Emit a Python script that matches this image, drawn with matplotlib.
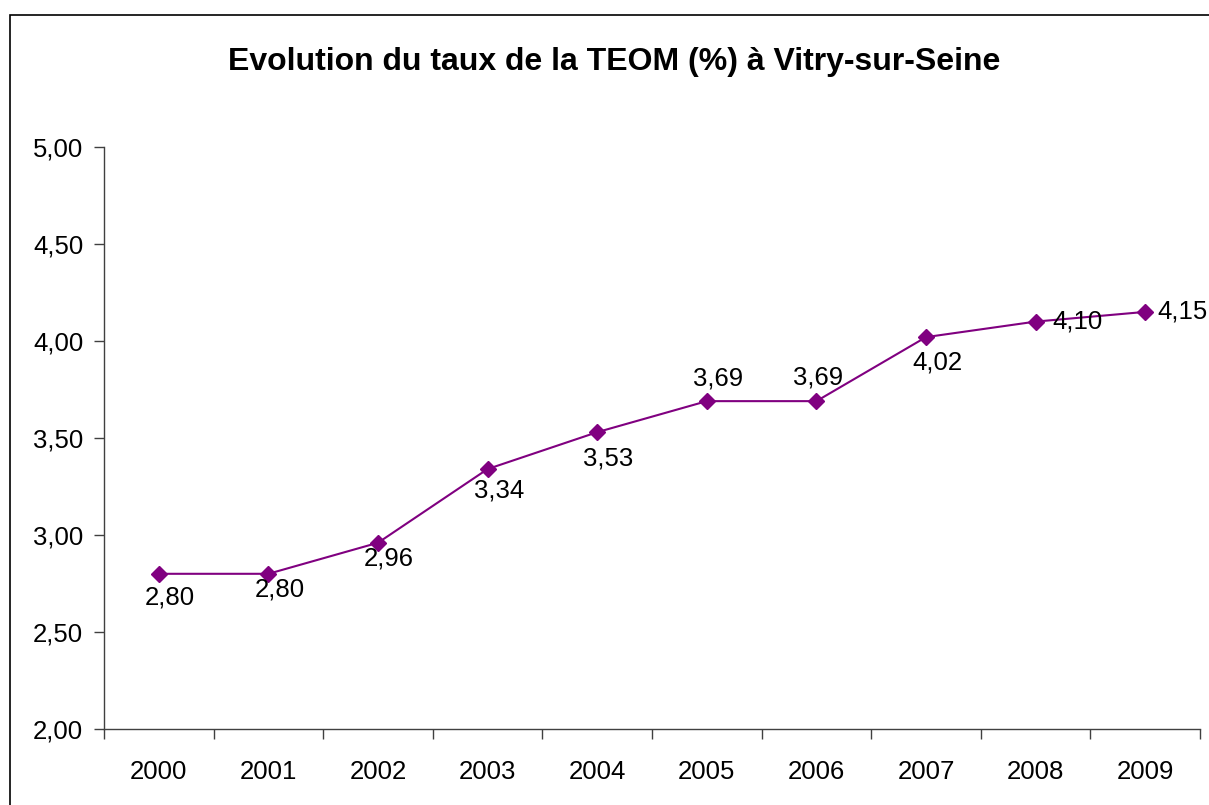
import matplotlib
matplotlib.use("Agg")
import matplotlib.pyplot as plt
from matplotlib.patches import Rectangle

plt.rcParams['font.family'] = ['Liberation Sans', 'DejaVu Sans']

years = ['2000', '2001', '2002', '2003', '2004', '2005', '2006', '2007', '2008', '2009']
taux = [2.80, 2.80, 2.96, 3.34, 3.53, 3.69, 3.69, 4.02, 4.10, 4.15]
y_ticks = [2.0, 2.5, 3.0, 3.5, 4.0, 4.5, 5.0]

# label offsets in pixels (Excel placed them a bit everywhere)
label_offsets = [(11, -24), (11, -16), (11, -16), (12, -21), (11, -26),
                 (11, 23), (2, 24), (11, -25), (42, 0), (37, 0)]

fig = plt.figure(figsize=(12.09, 8.05), dpi=100)
fig.patches.append(Rectangle((10 / 1209, -0.1), 1.2, (790 / 805) + 0.1,
                             transform=fig.transFigure, fill=False,
                             edgecolor='black', linewidth=1.2))

ax = fig.add_axes([104 / 1209, 76 / 805, 1096 / 1209, 582 / 805])
x = list(range(len(years)))
ax.plot(x, taux, color='#800080', linewidth=1.5, marker='D', markersize=8.5,
        markerfacecolor='#800080', markeredgecolor='#800080', clip_on=False)

for xi, v, (dx, dy) in zip(x, taux, label_offsets):
    ax.annotate(f"{v:.2f}".replace('.', ','), (xi, v), xytext=(dx * 0.72, dy * 0.72),
                textcoords='offset points', ha='center', va='center',
                fontsize=18.5, annotation_clip=False)

ax.set_xlim(-0.5, len(years) - 0.5)
ax.set_ylim(2.0, 5.0)
ax.set_yticks(y_ticks)
ax.set_yticklabels([f"{t:.2f}".replace('.', ',') for t in y_ticks], fontsize=18.5)
ax.set_xticks([i - 0.5 for i in range(len(years) + 1)])
ax.set_xticklabels([])
ax.set_xticks(x, minor=True)
ax.set_xticklabels(years, minor=True, fontsize=18.5)
ax.tick_params(axis='x', which='minor', length=0, pad=22)
ax.tick_params(axis='x', which='major', length=7, width=1, color='#404040')
ax.tick_params(axis='y', length=7, width=1, color='#404040', pad=8)

for s in ['top', 'right']:
    ax.spines[s].set_visible(False)
for s in ['left', 'bottom']:
    ax.spines[s].set_color('#404040')
    ax.spines[s].set_linewidth(1)

fig.text(614 / 1209, 1 - 62 / 805, "Evolution du taux de la TEOM (%) à Vitry-sur-Seine",
         ha='center', va='center', fontsize=23, fontweight='bold')

fig.savefig('out.png', dpi=100)
